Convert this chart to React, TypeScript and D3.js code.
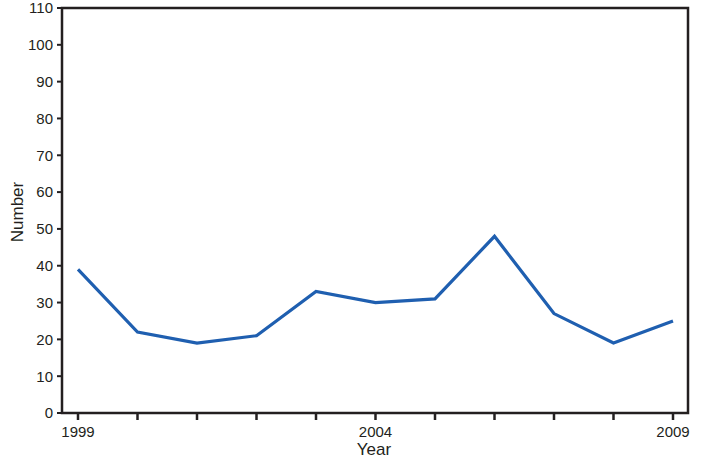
import React from 'react';
import * as d3 from 'd3';

const years = [1999, 2000, 2001, 2002, 2003, 2004, 2005, 2006, 2007, 2008, 2009];
const counts = [39, 22, 19, 21, 33, 30, 31, 48, 27, 19, 25];
const yTicks = [0, 10, 20, 30, 40, 50, 60, 70, 80, 90, 100, 110];
const labeledYears = [1999, 2004, 2009];

const W = 702;
const H = 458;
const frame = { left: 62, right: 688, top: 8, bottom: 413 };

export default function App() {
  const x = d3.scaleLinear().domain([1999, 2009]).range([78, 673]);
  const y = d3.scaleLinear().domain([0, 110]).range([frame.bottom, frame.top]);
  const line = d3.line<number>().x((_, i) => x(years[i])).y(d => y(d));
  const ink = '#231f20';
  const font = '"Liberation Sans", Arial, sans-serif';

  return (
    <svg width={W} height={H} style={{ position: 'absolute', left: 0, top: 0, background: '#fff' }} fontFamily={font}>
      {yTicks.map(t => (
        <g key={t}>
          <line x1={frame.left - 5} x2={frame.left} y1={y(t)} y2={y(t)} stroke={ink} strokeWidth={2} />
          <text x={frame.left - 9} y={y(t)} dy="0.36em" textAnchor="end" fontSize={15} fill={ink}>{t}</text>
        </g>
      ))}
      {years.map(yr => (
        <line key={yr} x1={x(yr)} x2={x(yr)} y1={frame.bottom} y2={frame.bottom + 7} stroke={ink} strokeWidth={2.5} />
      ))}
      {labeledYears.map(yr => (
        <text key={yr} x={x(yr)} y={frame.bottom + 24} textAnchor="middle" fontSize={15} fill={ink}>{yr}</text>
      ))}
      <rect x={frame.left} y={frame.top} width={frame.right - frame.left} height={frame.bottom - frame.top}
        fill="none" stroke={ink} strokeWidth={2.5} />
      <path d={line(counts) ?? ''} fill="none" stroke="#1f5fb0" strokeWidth={3.2} strokeLinejoin="miter" />
      <text x={374} y={455} textAnchor="middle" fontSize={17} fill={ink}>Year</text>
      <text transform={`translate(23,212) rotate(-90)`} textAnchor="middle"
        fontSize={17} fill={ink}>Number</text>
    </svg>
  );
}
